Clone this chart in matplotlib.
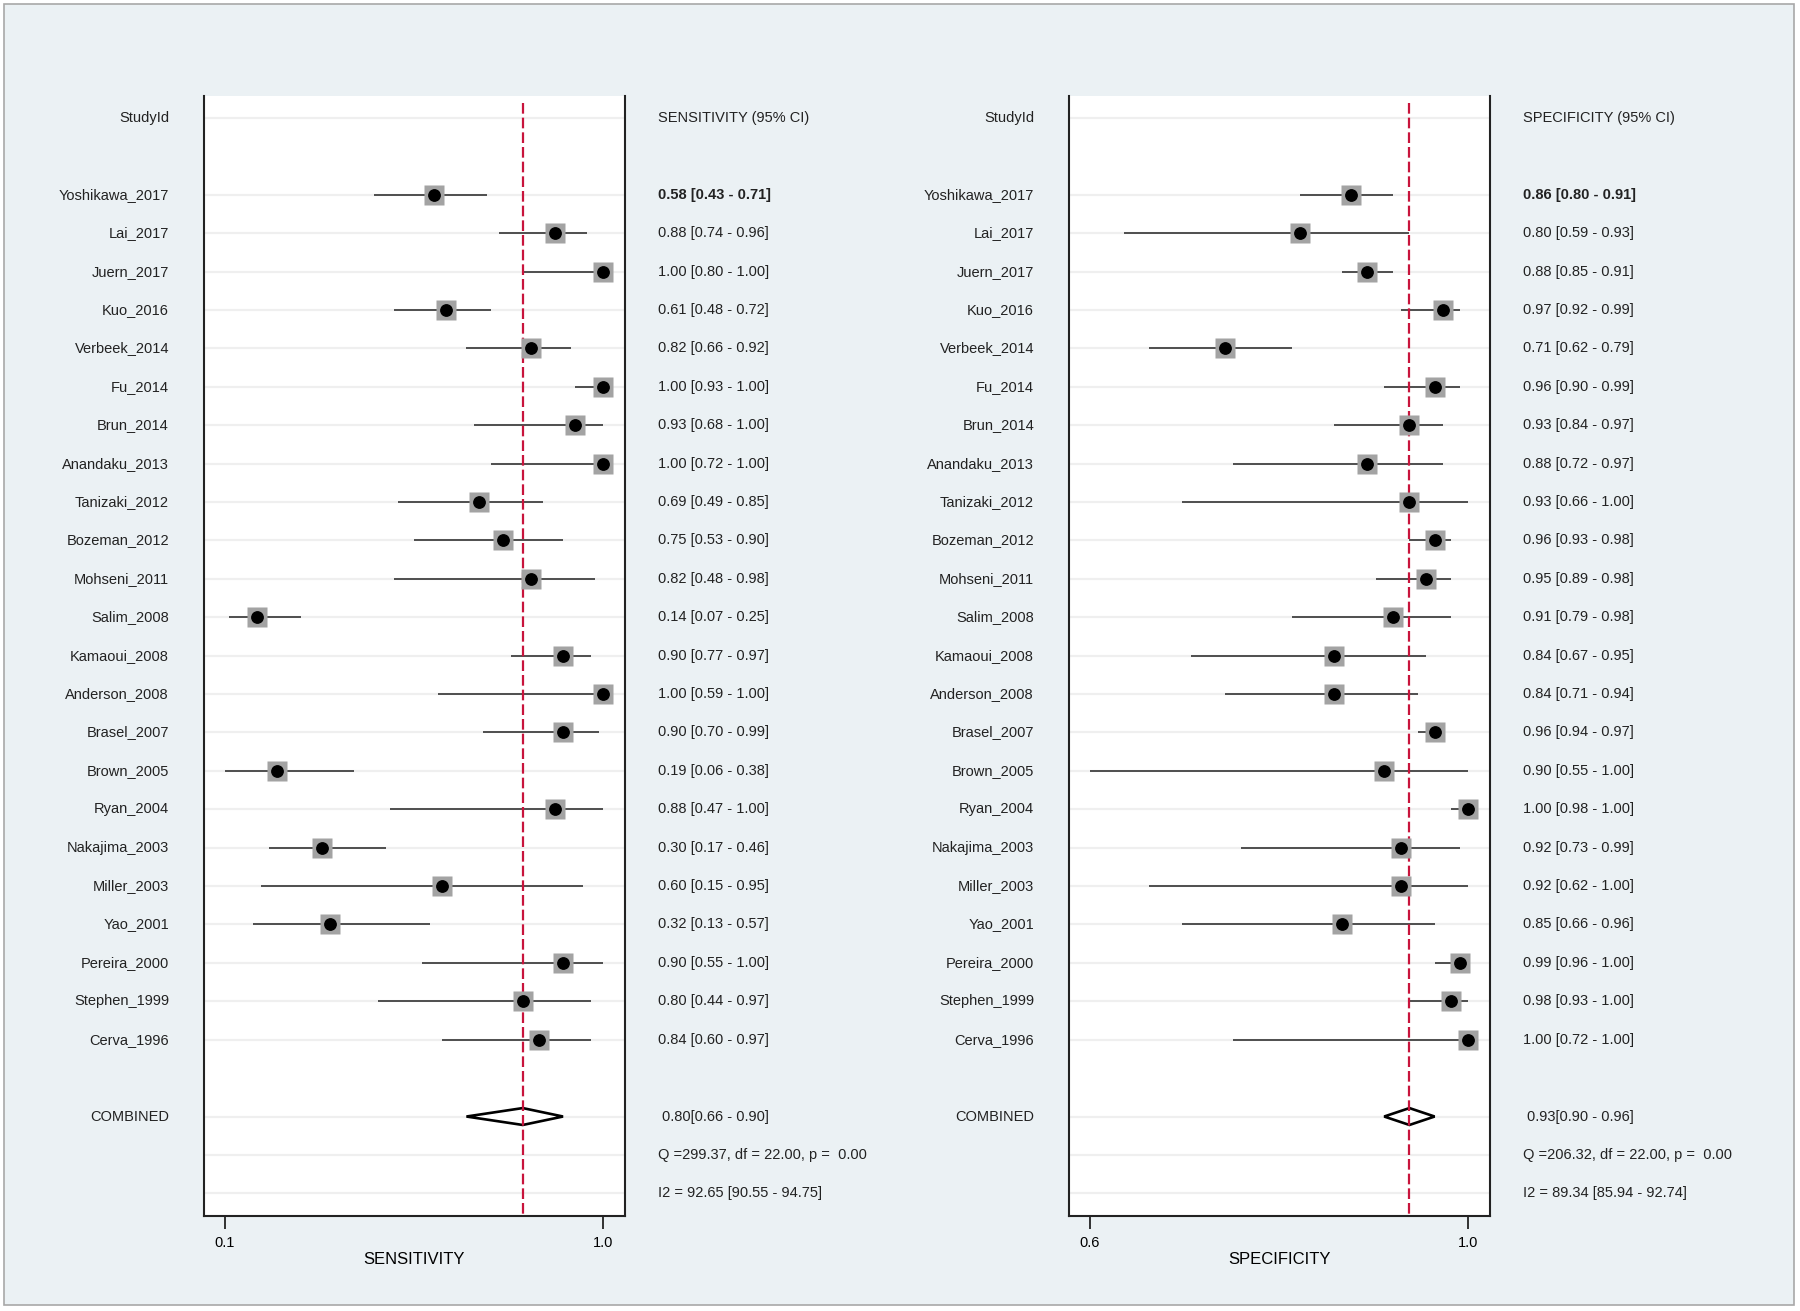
"""
Forest plots of sensitivity and specificity (paired), Stata midas style.
"""
import matplotlib.pyplot as plt
import matplotlib.transforms as mtransforms
from matplotlib.patches import Polygon, Rectangle

plt.rcParams['font.family'] = ['Liberation Sans', 'DejaVu Sans']

# Datos de los estudios
estudios = ['Yoshikawa_2017', 'Lai_2017', 'Juern_2017', 'Kuo_2016', 'Verbeek_2014',
            'Fu_2014', 'Brun_2014', 'Anandaku_2013', 'Tanizaki_2012', 'Bozeman_2012',
            'Mohseni_2011', 'Salim_2008', 'Kamaoui_2008', 'Anderson_2008', 'Brasel_2007',
            'Brown_2005', 'Ryan_2004', 'Nakajima_2003', 'Miller_2003', 'Yao_2001',
            'Pereira_2000', 'Stephen_1999', 'Cerva_1996']

sens = [0.58, 0.88, 1.00, 0.61, 0.82, 1.00, 0.93, 1.00, 0.69, 0.75, 0.82, 0.14,
        0.90, 1.00, 0.90, 0.19, 0.88, 0.30, 0.60, 0.32, 0.90, 0.80, 0.84]
sens_lo = [0.43, 0.74, 0.80, 0.48, 0.66, 0.93, 0.68, 0.72, 0.49, 0.53, 0.48, 0.07,
           0.77, 0.59, 0.70, 0.06, 0.47, 0.17, 0.15, 0.13, 0.55, 0.44, 0.60]
sens_hi = [0.71, 0.96, 1.00, 0.72, 0.92, 1.00, 1.00, 1.00, 0.85, 0.90, 0.98, 0.25,
           0.97, 1.00, 0.99, 0.38, 1.00, 0.46, 0.95, 0.57, 1.00, 0.97, 0.97]

spec = [0.86, 0.80, 0.88, 0.97, 0.71, 0.96, 0.93, 0.88, 0.93, 0.96, 0.95, 0.91,
        0.84, 0.84, 0.96, 0.90, 1.00, 0.92, 0.92, 0.85, 0.99, 0.98, 1.00]
spec_lo = [0.80, 0.59, 0.85, 0.92, 0.62, 0.90, 0.84, 0.72, 0.66, 0.93, 0.89, 0.79,
           0.67, 0.71, 0.94, 0.55, 0.98, 0.73, 0.62, 0.66, 0.96, 0.93, 0.72]
spec_hi = [0.91, 0.93, 0.91, 0.99, 0.79, 0.99, 0.97, 0.97, 1.00, 0.98, 0.98, 0.98,
           0.95, 0.94, 0.97, 1.00, 1.00, 0.99, 1.00, 0.96, 1.00, 1.00, 1.00]

# Estimaciones combinadas: (valor, inferior, superior)
sens_comb = (0.80, 0.66, 0.90)
spec_comb = (0.93, 0.90, 0.96)
sens_het = ['Q =299.37, df = 22.00, p =  0.00', 'I2 = 92.65 [90.55 - 94.75]']
spec_het = ['Q =206.32, df = 22.00, p =  0.00', 'I2 = 89.34 [85.94 - 92.74]']

BG = '#ebf1f4'
FS = 10.5


def dibujar_panel(fig, rect, x_lab, x_val, nombre, vals, lo, hi, comb, het, pad_x):
    """Dibuja un panel del forest plot"""
    ax = fig.add_axes(rect)
    ax.set_facecolor('white')
    n = len(vals)
    filas = list(range(2, 2 + n))
    fila_comb = n + 3
    filas_het = [n + 4, n + 5]

    # Lineas de fondo en cada fila con texto
    for r in [0] + filas + [fila_comb] + filas_het:
        ax.axhline(r, color='#efefef', lw=1.6, zorder=0)

    # Intervalos y puntos
    ax.hlines(filas, lo, hi, color='#333333', lw=1.2, zorder=2)
    ax.plot(vals, filas, 's', ms=14.5, color='#a3a3a3', mec='none', zorder=4)
    ax.plot(vals, filas, 'o', ms=8.2, color='black', zorder=5)

    # Diamante del valor combinado
    v, l, h = comb
    d = 0.22
    diamante = Polygon([[l, fila_comb], [v, fila_comb - d], [h, fila_comb], [v, fila_comb + d]],
                       closed=True, facecolor='white', edgecolor='black', lw=1.9, zorder=2)
    ax.add_patch(diamante)

    # Linea vertical roja en el valor combinado
    ax.plot([v, v], [-0.38, 29], color='#c8143c', lw=1.6, dashes=(4.8, 1.8), zorder=3,
            clip_on=True)

    # Ejes
    ax.set_ylim(28.59, -0.57)
    xmin = min(lo)
    ax.set_xlim(xmin - (1.0 - xmin) * 0.0556, 1.0 + (1.0 - xmin) * 0.0575)
    ax.set_xticks([xmin, 1.0])
    ax.set_xticklabels(['%.1f' % xmin, '1.0'], fontsize=FS)
    ax.set_yticks([])
    ax.tick_params(axis='x', direction='out', length=9.5, width=1.3, pad=5, color='#222222')
    ax.set_xlabel(nombre, fontsize=12, labelpad=1)
    ax.spines['top'].set_visible(False)
    for s in ['left', 'right', 'bottom']:
        ax.spines[s].set_linewidth(1.5)
        ax.spines[s].set_color('#222222')

    # Textos en coordenadas de figura (x) y datos (y)
    trans = mtransforms.blended_transform_factory(fig.transFigure, ax.transData)
    ax.text(x_lab, 0, 'StudyId', transform=trans, ha='right', va='center', fontsize=FS,
            color='#222222', clip_on=False)
    ax.text(x_val, 0, nombre + ' (95% CI)', transform=trans, ha='left', va='center',
            fontsize=FS, color='#222222', clip_on=False)
    for i, r in enumerate(filas):
        ax.text(x_lab, r, estudios[i], transform=trans, ha='right', va='center',
                fontsize=FS, color='#222222', clip_on=False)
        peso = 'bold' if i == 0 else 'normal'
        ax.text(x_val, r, '%.2f [%.2f - %.2f]' % (vals[i], lo[i], hi[i]), transform=trans,
                ha='left', va='center', fontsize=FS, color='#222222', fontweight=peso,
                clip_on=False)
    ax.text(x_lab, fila_comb, 'COMBINED', transform=trans, ha='right', va='center',
            fontsize=FS, color='#222222', clip_on=False)
    ax.text(x_val + pad_x, fila_comb, '%.2f[%.2f - %.2f]' % comb, transform=trans,
            ha='left', va='center', fontsize=FS, color='#222222', clip_on=False)
    for t, r in zip(het, filas_het):
        ax.text(x_val, r, t, transform=trans, ha='left', va='center', fontsize=FS,
                color='#222222', clip_on=False)
    return ax


fig = plt.figure(figsize=(18, 13.11), dpi=100, facecolor='white')

# Marco y fondo
marco = Rectangle((4 / 1800, 6 / 1311), 1790 / 1800, 1301 / 1311,
                  transform=fig.transFigure, facecolor=BG, edgecolor='#a8a8a8',
                  lw=1.2, zorder=-10)
fig.add_artist(marco)

dibujar_panel(fig, [204 / 1800, 95 / 1311, 421 / 1800, 1120 / 1311],
              169 / 1800, 658 / 1800, 'SENSITIVITY', sens, sens_lo, sens_hi,
              sens_comb, sens_het, 4 / 1800)
dibujar_panel(fig, [1069 / 1800, 95 / 1311, 421 / 1800, 1120 / 1311],
              1034 / 1800, 1523 / 1800, 'SPECIFICITY', spec, spec_lo, spec_hi,
              spec_comb, spec_het, 4 / 1800)

plt.savefig('out.png', dpi=100, facecolor='white')
plt.close()
